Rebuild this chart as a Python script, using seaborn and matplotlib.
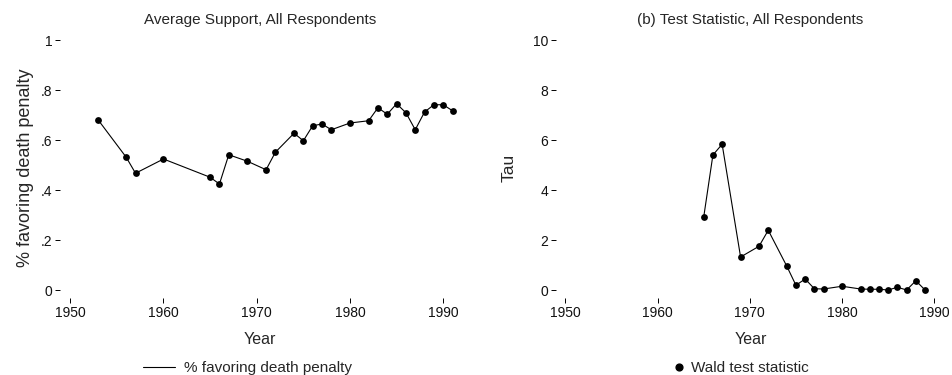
import matplotlib
matplotlib.use("Agg")
import matplotlib.pyplot as plt
from matplotlib.lines import Line2D
import seaborn as sns
import pandas as pd

years_support = [1953, 1956, 1957, 1960, 1965, 1966, 1967, 1969, 1971, 1972, 1974, 1975,
                 1976, 1977, 1978, 1980, 1982, 1983, 1984, 1985, 1986, 1987, 1988, 1989,
                 1990, 1991]
support = [0.680, 0.531, 0.467, 0.524, 0.451, 0.424, 0.541, 0.515, 0.481, 0.551, 0.627, 0.597,
           0.657, 0.664, 0.641, 0.668, 0.677, 0.729, 0.703, 0.745, 0.709, 0.641, 0.712, 0.741,
           0.741, 0.717]

years_tau = [1965, 1966, 1967, 1969, 1971, 1972, 1974, 1975, 1976, 1977, 1978, 1980,
             1982, 1983, 1984, 1985, 1986, 1987, 1988, 1989]
tau = [2.91, 5.40, 5.83, 1.32, 1.75, 2.39, 0.96, 0.19, 0.44, 0.05, 0.04, 0.15,
       0.04, 0.03, 0.03, 0.00, 0.11, 0.00, 0.37, 0.00]

x_ticks = [1950, 1960, 1970, 1980, 1990]
y1_ticks = [0, 0.2, 0.4, 0.6, 0.8, 1.0]
y1_labels = ["0", ".2", ".4", ".6", ".8", "1"]
y2_ticks = [0, 2, 4, 6, 8, 10]
y2_labels = ["0", "2", "4", "6", "8", "10"]

sns.set_theme(style="white")
plt.rcParams["font.family"] = ["Liberation Sans", "DejaVu Sans"]

W, H = 953, 375
fig = plt.figure(figsize=(W / 100, H / 100), dpi=100)

def px_axes(l, r, t, b):
    return fig.add_axes([l / W, (H - b) / H, (r - l) / W, (b - t) / H])

ax1 = px_axes(60, 460, 38, 298)
ax2 = px_axes(556, 945, 38, 298)

df1 = pd.DataFrame({"Year": years_support, "support": support})
df2 = pd.DataFrame({"Year": years_tau, "tau": tau})

line_kw = dict(color="black", linewidth=0.8, marker="o", markersize=4.9,
               markerfacecolor="black", markeredgecolor="black", markeredgewidth=0)
sns.lineplot(data=df1, x="Year", y="support", ax=ax1, **line_kw)
sns.lineplot(data=df2, x="Year", y="tau", ax=ax2, **line_kw)

ax1.set_xlim(1948.9, 1991.8)
ax1.set_ylim(-0.032, 1.008)
ax2.set_xlim(1948.99, 1991.16)
ax2.set_ylim(-0.32, 10.08)

for ax, yt, yl in [(ax1, y1_ticks, y1_labels), (ax2, y2_ticks, y2_labels)]:
    for s in ax.spines.values():
        s.set_visible(False)
    ax.set_xticks(x_ticks)
    ax.set_xticklabels([str(v) for v in x_ticks])
    ax.set_yticks(yt)
    ax.set_yticklabels(yl)
    ax.tick_params(axis="both", which="both", direction="out", length=3.5, width=0.7,
                   color="black", labelsize=10, labelcolor="#111111", pad=2,
                   bottom=True, left=True)
    ax.set_xlabel("Year", fontsize=11.5, labelpad=9)
    ax.grid(False)

ax1.set_ylabel("% favoring death penalty", fontsize=13, labelpad=5)
ax2.set_ylabel("Tau", fontsize=12.5, labelpad=12)
ax1.set_title("Average Support, All Respondents", fontsize=11, pad=10)
ax2.set_title("(b) Test Statistic, All Respondents", fontsize=11, pad=10)

h1 = [Line2D([], [], color="black", linewidth=0.8)]
h2 = [Line2D([], [], color="black", linestyle="none", marker="o", markersize=4.9)]
fig.legend(h1, ["% favoring death penalty"], loc="center",
           bbox_to_anchor=(247.5 / W, (H - 368) / H), frameon=False, fontsize=11,
           handlelength=2.1, handletextpad=0.55, borderpad=0)
fig.legend(h2, ["Wald test statistic"], loc="center",
           bbox_to_anchor=(741 / W, (H - 368) / H), frameon=False, fontsize=11,
           handlelength=0.8, handletextpad=0.4, borderpad=0)

fig.savefig("out.png", dpi=100, facecolor="white")
